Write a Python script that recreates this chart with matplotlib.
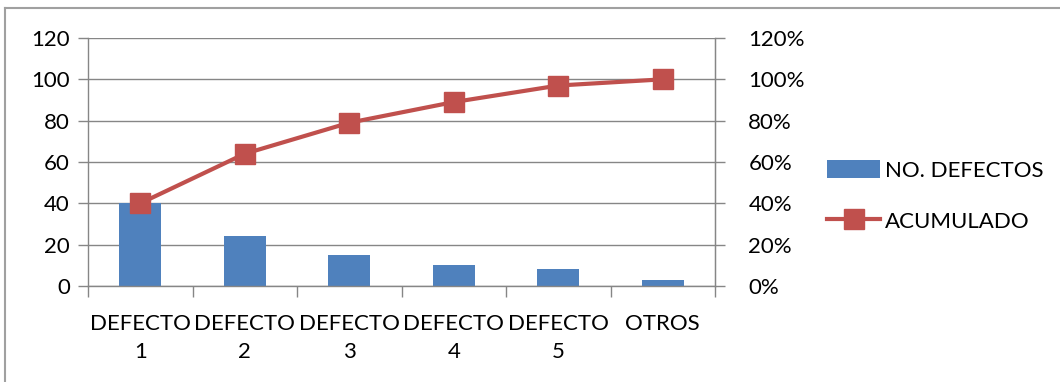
import matplotlib
matplotlib.use("agg")
import matplotlib.pyplot as plt
from matplotlib.lines import Line2D
from matplotlib.patches import Patch
import numpy as np

plt.rcParams["font.family"] = ["Lato", "DejaVu Sans"]

categories = ["DEFECTO\n1", "DEFECTO\n2", "DEFECTO\n3", "DEFECTO\n4", "DEFECTO\n5", "OTROS"]
defectos = [40, 24, 15, 10, 8, 3]
left_ticks = [0, 20, 40, 60, 80, 100, 120]
right_ticks = [0.0, 0.2, 0.4, 0.6, 0.8, 1.0, 1.2]

acumulado = np.cumsum(defectos) / sum(defectos)

bar_color = "#4F81BD"
line_color = "#C0504D"
axis_gray = "#868686"
fs = 16

fig = plt.figure(figsize=(10.6, 3.82), dpi=100)
ax = fig.add_axes([88 / 1060, 1 - 286 / 382, (715 - 88) / 1060, (286 - 38) / 382])
x = np.arange(len(categories))

ax.bar(x, defectos, width=0.4, color=bar_color, zorder=2)
ax.set_xlim(-0.5, len(categories) - 0.5)
ax.set_ylim(0, 120)
ax.set_yticks(left_ticks)
ax.yaxis.grid(True, color=axis_gray, linewidth=1, zorder=0)
ax.set_axisbelow(True)

ax.set_xticks(x)
ax.set_xticklabels(categories, fontsize=fs, linespacing=1.5)
ax.tick_params(axis="x", which="major", length=0, pad=20)
ax.set_xticks(np.arange(len(categories) + 1) - 0.5, minor=True)
ax.tick_params(axis="x", which="minor", length=8, width=1, color=axis_gray, direction="out")
ax.tick_params(axis="y", length=7, width=1, color=axis_gray, labelsize=fs, pad=6)

ax.spines["top"].set_visible(False)
for side in ["left", "bottom", "right"]:
    ax.spines[side].set_color(axis_gray)
    ax.spines[side].set_linewidth(1)

ax2 = ax.twinx()
ax2.plot(x, acumulado, color=line_color, linewidth=3, marker="s", markersize=14,
         markerfacecolor=line_color, markeredgecolor=line_color, zorder=3)
ax2.set_ylim(0, 1.2)
ax2.set_yticks(right_ticks)
ax2.set_yticklabels([f"{int(round(v * 100))}%" for v in right_ticks])
ax2.tick_params(axis="y", length=7, width=1, color=axis_gray, labelsize=fs, pad=17)
ax2.spines["top"].set_visible(False)
ax2.spines["left"].set_visible(False)
ax2.spines["bottom"].set_visible(False)
ax2.spines["right"].set_color(axis_gray)

handles = [
    Patch(facecolor=bar_color, edgecolor="none", label="NO. DEFECTOS"),
    Line2D([0], [0], color=line_color, linewidth=3, marker="s", markersize=14,
           label="ACUMULADO"),
]
fig.legend(handles=handles, loc="center left", bbox_to_anchor=(827 / 1060, 1 - 196 / 382),
           frameon=False, fontsize=fs, handlelength=2.4, handleheight=0.85, handletextpad=0.2,
           labelspacing=1.35, borderaxespad=0, borderpad=0)

# chart frame (left and top edges)
fig.add_artist(Line2D([5 / 1060, 5 / 1060], [0, 1 - 8 / 382], transform=fig.transFigure,
                      color="#A0A0A0", linewidth=1.5))
fig.add_artist(Line2D([5 / 1060, 1], [1 - 8 / 382, 1 - 8 / 382], transform=fig.transFigure,
                      color="#A0A0A0", linewidth=1.5))

fig.savefig("out.png", dpi=100)
